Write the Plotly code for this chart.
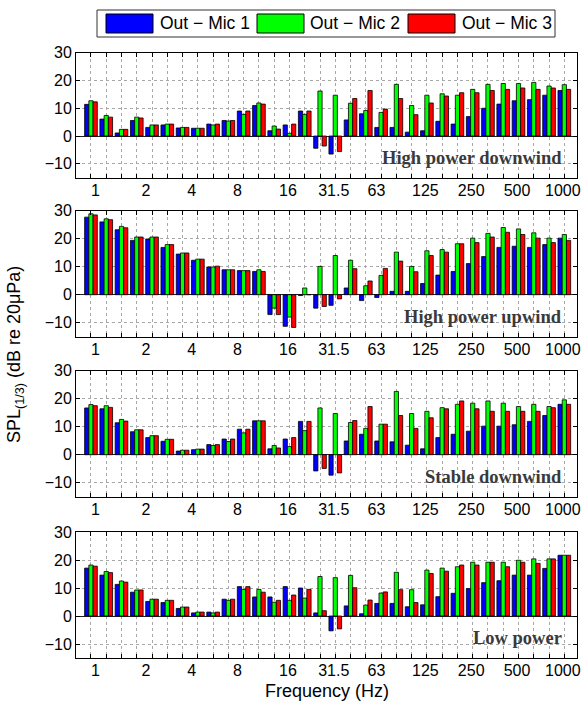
import plotly.graph_objects as go
from plotly.subplots import make_subplots

# ---------------- DATA ----------------
bands = ["1", "1.25", "1.6", "2", "2.5", "3.15", "4", "5", "6.3", "8", "10", "12.5",
         "16", "20", "25", "31.5", "40", "50", "63", "80", "100", "125", "160", "200",
         "250", "315", "400", "500", "630", "800", "1000", "1250"]

tick_labels = ["1", "2", "4", "8", "16", "31.5", "63", "125", "250", "500", "1000"]

series_names = ["Out \u2212 Mic 1", "Out \u2212 Mic 2", "Out \u2212 Mic 3"]
panel_names = ["High power downwind", "High power upwind", "Stable downwind", "Low power"]

# High power downwind
hpd_mic1 = [11.4, 6.1, 1.1, 5.6, 3.1, 4.0, 2.9, 2.8, 4.3, 5.6, 9.0, 11.0, 1.9, 4.0, 9.0, -4.4,
            -6.5, 5.8, 8.0, 3.1, 3.1, 1.4, 1.9, 5.3, 4.3, 7.0, 10.0, 11.5, 12.7, 13.1, 14.7, 16.4]
hpd_mic2 = [12.7, 7.4, 2.4, 6.8, 4.0, 4.3, 3.1, 2.8, 4.0, 5.4, 7.8, 11.9, 3.6, 1.0, 7.8, 16.2,
            14.7, 11.8, 9.2, 8.5, 18.6, 11.0, 14.7, 15.2, 14.7, 16.8, 18.6, 18.9, 18.9, 19.3, 18.0, 18.5]
hpd_mic3 = [12.3, 6.8, 2.4, 6.5, 4.0, 4.3, 3.1, 2.8, 4.3, 5.6, 9.0, 11.5, 2.5, 4.3, 9.0, -3.6,
            -5.6, 13.5, 16.4, 9.7, 13.5, 7.7, 11.9, 14.4, 15.6, 15.6, 16.4, 16.8, 17.3, 16.8, 17.3, 16.8]

# High power upwind
hpu_mic1 = [27.7, 26.0, 23.2, 19.4, 19.9, 16.9, 14.5, 12.3, 9.9, 8.9, 8.6, 8.3, -7.1, -11.3, -0.3, -4.8,
            -3.8, 2.4, -2.1, -1.0, 1.2, 1.2, 4.0, 7.0, 8.3, 11.1, 13.6, 16.9, 17.3, 16.9, 17.9, 20.2]
hpu_mic2 = [28.9, 27.1, 24.4, 20.6, 20.6, 17.9, 14.9, 12.7, 9.9, 8.9, 8.6, 8.9, -4.8, -8.0, 2.4, 10.1,
            14.0, 12.3, 3.2, 6.9, 15.2, 10.1, 15.7, 16.1, 18.2, 20.2, 21.9, 24.0, 23.5, 22.1, 20.2, 21.5]
hpu_mic3 = [28.5, 26.8, 23.9, 20.6, 20.6, 17.9, 14.9, 12.7, 10.2, 8.9, 8.6, 8.3, -7.1, -11.7, 0.0, -4.2,
            -1.5, 9.3, 4.9, 9.4, 12.0, 8.2, 14.0, 15.2, 18.2, 18.6, 20.6, 22.3, 21.5, 20.2, 18.6, 19.4]

# Stable downwind
sd_mic1 = [16.7, 16.4, 11.4, 8.2, 6.1, 4.8, 1.3, 1.8, 3.6, 5.6, 9.1, 12.1, 2.1, 5.6, 11.9, -5.8,
           -7.3, 4.9, 7.3, 4.9, 4.6, 3.4, 2.1, 6.1, 7.3, 8.4, 10.2, 10.2, 10.7, 11.9, 14.0, 18.0]
sd_mic2 = [17.9, 17.5, 12.6, 8.9, 6.8, 5.5, 1.6, 2.0, 3.3, 4.7, 7.8, 12.1, 3.3, 2.9, 8.6, 16.7,
           14.7, 11.5, 9.4, 10.9, 22.6, 14.7, 15.5, 16.8, 18.0, 18.4, 19.2, 18.4, 17.2, 18.0, 17.2, 19.6]
sd_mic3 = [17.5, 16.9, 12.0, 8.9, 6.8, 5.5, 1.6, 2.0, 3.6, 5.6, 9.1, 12.1, 2.4, 6.1, 11.9, -4.9,
           -6.5, 12.2, 17.2, 10.9, 14.0, 9.4, 13.2, 16.4, 19.2, 16.4, 15.5, 15.5, 15.5, 15.5, 16.8, 18.0]

# Low power
lp_mic1 = [17.1, 14.6, 11.3, 8.5, 5.2, 4.8, 2.7, 1.1, 1.4, 6.0, 10.5, 6.8, 6.8, 10.5, 10.0, 1.1,
           -5.3, 3.6, 0.8, 4.5, 4.5, 3.3, 4.0, 6.9, 8.1, 9.8, 11.9, 12.6, 14.6, 14.6, 17.0, 21.7]
lp_mic2 = [18.2, 15.9, 12.5, 9.3, 6.0, 5.6, 3.2, 1.4, 1.1, 5.6, 9.5, 9.5, 4.9, 5.6, 6.4, 14.1,
           13.7, 14.5, 3.9, 8.2, 15.6, 9.4, 16.4, 17.1, 17.6, 19.2, 19.2, 19.2, 19.9, 20.4, 20.4, 21.7]
lp_mic3 = [17.8, 15.5, 12.1, 9.3, 6.0, 5.6, 3.2, 1.4, 1.4, 6.0, 10.5, 8.5, 5.6, 7.5, 9.5, 1.9,
           -4.6, 10.1, 5.7, 8.6, 9.4, 4.8, 15.2, 16.0, 18.2, 18.2, 19.2, 17.6, 19.2, 18.8, 20.4, 21.7]

panels = [
    (hpd_mic1, hpd_mic2, hpd_mic3),
    (hpu_mic1, hpu_mic2, hpu_mic3),
    (sd_mic1, sd_mic2, sd_mic3),
    (lp_mic1, lp_mic2, lp_mic3),
]

# ---------------- STYLE / LAYOUT ----------------
W, H = 585, 704
ML, MR, MT, MB = 76, 8, 52, 46
PW, PH = W - ML - MR, H - MT - MB

colors = ["#0000FF", "#00FF00", "#FF0000"]
x_idx = list(range(len(bands)))
tick_pos = [0.3, 3.6, 6.6, 9.6, 12.9, 15.9, 18.7, 21.9, 24.9, 27.9, 30.9]

panel_px = [(52.7, 177.7), (210.7, 336.7), (370.7, 496.7), (532.0, 658.0)]


def px_x(p):
    return (p - ML) / PW


def px_y(p):
    return 1 - (p - MT) / PH


fig = make_subplots(rows=4, cols=1)

for r, triple in enumerate(panels, start=1):
    for name, vals, c in zip(series_names, triple, colors):
        fig.add_trace(
            go.Bar(
                x=x_idx, y=vals, name=name,
                customdata=bands,
                hovertemplate="%{customdata} Hz: %{y} dB<extra>" + name + "</extra>",
                marker=dict(color=c, line=dict(color="black", width=0.8)),
                showlegend=False,
            ),
            row=r, col=1,
        )

fig.update_layout(
    width=W, height=H,
    margin=dict(l=ML, r=MR, t=MT, b=MB, autoexpand=False),
    barmode="group", bargap=0.17, bargroupgap=0,
    paper_bgcolor="white", plot_bgcolor="white",
    font=dict(family="Liberation Sans, Arial, sans-serif", size=16, color="black"),
    showlegend=False,
)

for r, (top, bot) in enumerate(panel_px, start=1):
    fig.update_yaxes(domain=[max(0, px_y(bot)), min(1, px_y(top))], row=r, col=1)

fig.update_xaxes(
    range=[-0.98, 31.83], automargin=False,
    tickmode="array", tickvals=tick_pos, ticktext=tick_labels,
    ticks="", showgrid=False, zeroline=False,
    showline=True, linecolor="black", linewidth=1, mirror="ticks",
    tickfont=dict(size=16, color="black"),
    ticklabelstandoff=-2,
    minor=dict(tickmode="array", tickvals=x_idx, ticks="inside", ticklen=4,
               tickcolor="black", tickwidth=1,
               showgrid=True, gridcolor="#a8a8a8", griddash="dot", gridwidth=1),
)
fig.update_yaxes(
    range=[-15, 30], automargin=False,
    tickmode="array", tickvals=[-10, 0, 10, 20, 30],
    ticks="inside", ticklen=4, tickcolor="black",
    showgrid=True, gridcolor="#a8a8a8", griddash="dot", gridwidth=1,
    zeroline=True, zerolinecolor="#222222", zerolinewidth=1.2,
    showline=True, linecolor="black", linewidth=1, mirror="ticks",
    tickfont=dict(size=16, color="black"),
)

annotations = []
for r, name in enumerate(panel_names, start=1):
    annotations.append(dict(
        x=px_x(564), xref="paper", xanchor="right",
        y=-8, yref=("y" if r == 1 else f"y{r}"), yanchor="middle",
        text="<b>" + name + "</b>", showarrow=False,
        font=dict(family="Liberation Serif, Times New Roman, serif", size=18.5, color="#3a3a3a"),
    ))

# axis titles
annotations.append(dict(
    x=px_x(15), y=px_y(355), xref="paper", yref="paper",
    text="SPL<sub>(1/3)</sub> (dB re 20\u03bcPa)", textangle=-90,
    showarrow=False, xanchor="center", yanchor="middle",
    font=dict(size=18, color="black"),
))
annotations.append(dict(
    x=px_x(327), y=px_y(691), xref="paper", yref="paper",
    text="Frequency (Hz)", showarrow=False, xanchor="center", yanchor="middle",
    font=dict(size=18, color="black"),
))

# custom legend (wide swatches like the original)
shapes = [dict(type="rect", xref="paper", yref="paper",
               x0=px_x(97), x1=px_x(555), y0=px_y(37), y1=px_y(10),
               line=dict(color="#333333", width=1), fillcolor="white", layer="above")]
sw_x = [106, 257, 408]
tx_x = [158, 308, 460]
for sx, tx, name, c in zip(sw_x, tx_x, series_names, colors):
    shapes.append(dict(type="rect", xref="paper", yref="paper",
                       x0=px_x(sx), x1=px_x(sx + 47), y0=px_y(33), y1=px_y(14),
                       line=dict(color="black", width=1), fillcolor=c, layer="above"))
    annotations.append(dict(
        x=px_x(tx), y=px_y(23.5), xref="paper", yref="paper",
        text=name, showarrow=False, xanchor="left", yanchor="middle",
        font=dict(size=17.5, color="black"),
    ))

fig.update_layout(annotations=annotations, shapes=shapes)

fig.write_html("out.html", config={"displayModeBar": False},
               post_script="document.body.style.margin='0';")
